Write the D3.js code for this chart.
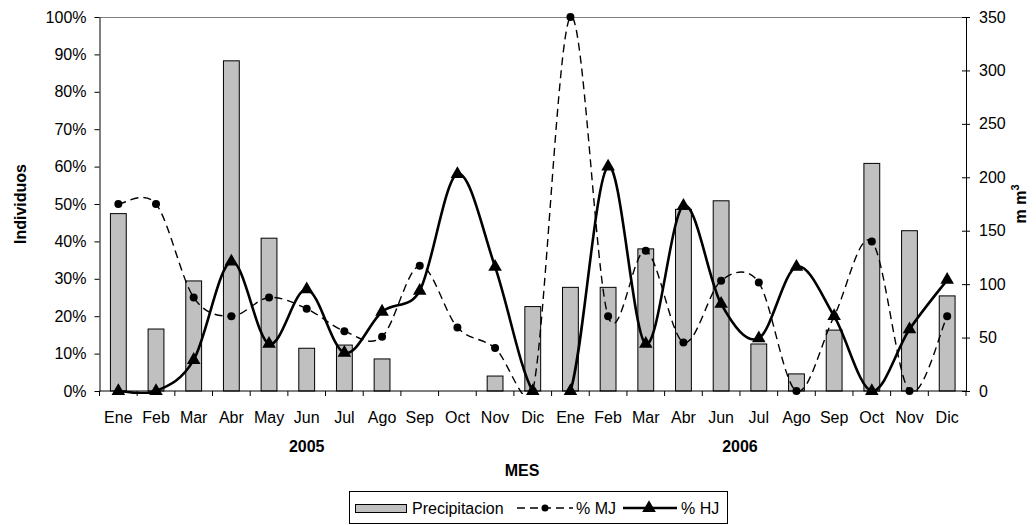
<!DOCTYPE html>
<html>
<head>
<meta charset="utf-8">
<script src="https://cdn.jsdelivr.net/npm/d3@7"></script>
<style>
  body { margin: 0; background: #fff; }
  svg { display: block; font-family: "Liberation Sans", Arial, sans-serif; }
</style>
</head>
<body>
<svg id="chart" width="1036" height="525"></svg>
<script>
// Monthly categories (two years)
const months = ["Ene","Feb","Mar","Abr","May","Jun","Jul","Ago","Sep","Oct","Nov","Dic",
                "Ene","Feb","Mar","Abr","Jun","Jul","Ago","Sep","Oct","Nov","Dic"];
const yearOf = ["2005","2005","2005","2005","2005","2005","2005","2005","2005","2005","2005","2005",
                "2006","2006","2006","2006","2006","2006","2006","2006","2006","2006","2006"];
const yearLabels = ["2005","2006"];

// Precipitation (mm3, right axis)
const precipitacion = [166, 58, 103, 309, 143, 40, 43, 30, 0, 0, 14, 79,
                       97, 97, 133, 170, 178, 44, 16, 57, 213, 150, 89];
// % MJ (left axis, percent)
const pctMJ = [50, 50, 25, 20, 25, 22, 16, 14.5, 33.5, 17, 11.5, 0,
               100, 20, 37.5, 13, 29.5, 29, 0, 20, 40, 0, 20];
// % HJ (left axis, percent)
const pctHJ = [0, 0, 8.3, 34.6, 12.6, 27.2, 10.2, 21.2, 26.8, 58, 33.2, 0,
               0, 60, 12.6, 49.5, 23.3, 14.1, 33.2, 20, 0, 16.5, 29.7];

const leftTicks = [0, 0.1, 0.2, 0.3, 0.4, 0.5, 0.6, 0.7, 0.8, 0.9, 1.0];
const rightTicks = [0, 50, 100, 150, 200, 250, 300, 350];

const svg = d3.select("#chart");
const L = 99.5, R = 966, T = 17, B = 391;
const idx = months.map((_, i) => i);

const x = d3.scaleBand().domain(idx).range([L, R]).padding(0);
const bw = x.bandwidth();
const yPct = d3.scaleLinear().domain([0, 1]).range([B, T]);
const yMm = d3.scaleLinear().domain([0, 350]).range([B, T]);

// series lines are clipped to the plot area
svg.append("defs").append("clipPath").attr("id", "plotClip")
  .append("rect").attr("x", L - 5).attr("y", T - 3).attr("width", R - L + 10).attr("height", B - T + 6);

// top border of plot area
svg.append("line").attr("x1", L).attr("x2", R).attr("y1", T + 0.5).attr("y2", T + 0.5)
  .attr("stroke", "#808080").attr("stroke-width", 1);

// precipitation bars
const barW = bw * 0.42;
svg.append("g").selectAll("rect").data(precipitacion).join("rect")
  .attr("x", (d, i) => x(i) + bw / 2 - barW / 2)
  .attr("y", d => yMm(d))
  .attr("width", barW)
  .attr("height", d => B - yMm(d))
  .attr("fill", "#c0c0c0")
  .attr("stroke", "#000")
  .attr("stroke-width", 1)
  .style("display", d => d > 0 ? null : "none");

// left axis
const gL = svg.append("g").attr("transform", `translate(${L},0)`)
  .call(d3.axisLeft(yPct).tickValues(leftTicks).tickFormat(d3.format(".0%")).tickSize(5).tickSizeOuter(0).tickPadding(8));
gL.select(".domain").attr("stroke", "#000");
gL.selectAll("text").attr("font-size", 16).attr("fill", "#000").attr("font-family", "Liberation Sans, Arial, sans-serif");

// right axis (ticks cross the axis line)
const gR = svg.append("g").attr("transform", `translate(${R},0)`)
  .call(d3.axisRight(yMm).tickValues(rightTicks).tickSize(4).tickSizeOuter(0).tickPadding(9));
gR.select(".domain").attr("stroke", "#000");
gR.selectAll(".tick line").attr("x1", -4).attr("x2", 4);
gR.selectAll("text").attr("font-size", 16).attr("fill", "#000").attr("font-family", "Liberation Sans, Arial, sans-serif");

// bottom axis: ticks at band edges, labels at band centres
const gB = svg.append("g");
gB.append("line").attr("x1", L).attr("x2", R).attr("y1", B).attr("y2", B).attr("stroke", "#000");
const edges = idx.map(i => x(i)).concat([R]);
gB.selectAll("line.tk").data(edges).join("line").attr("class", "tk")
  .attr("x1", d => d).attr("x2", d => d).attr("y1", B).attr("y2", B + 5).attr("stroke", "#000");
gB.selectAll("text.m").data(months).join("text").attr("class", "m")
  .attr("x", (d, i) => x(i) + bw / 2).attr("y", 423)
  .attr("text-anchor", "middle").attr("font-size", 16).text(d => d);

// year labels
yearLabels.forEach(yr => {
  const ii = idx.filter(i => yearOf[i] === yr);
  const cx = (x(ii[0]) + x(ii[ii.length - 1])) / 2;
  svg.append("text").attr("x", cx).attr("y", 452).attr("text-anchor", "middle")
    .attr("font-size", 16).attr("font-weight", "bold").text(yr);
});

// axis titles
svg.append("text").attr("x", 522).attr("y", 476).attr("text-anchor", "middle")
  .attr("font-size", 16).attr("font-weight", "bold").text("MES");
svg.append("text").attr("transform", `translate(26,${(T + B) / 2}) rotate(-90)`)
  .attr("text-anchor", "middle").attr("font-size", 16).attr("font-weight", "bold").text("Individuos");
const mm = svg.append("text").attr("transform", `translate(1026,${(T + B) / 2}) rotate(-90)`)
  .attr("text-anchor", "middle").attr("font-size", 16).attr("font-weight", "bold");
mm.append("tspan").text("m m");
mm.append("tspan").attr("dy", -7).attr("font-size", 11).text("3");

// Smoothed line: Catmull-Rom Bezier segments whose control handles are
// limited to half the length of the segment they belong to.
function smoothPath(pts) {
  const p = d3.path();
  const n = pts.length;
  const lim = 0.5;
  p.moveTo(pts[0][0], pts[0][1]);
  for (let i = 0; i < n - 1; i++) {
    const p0 = pts[Math.max(i - 1, 0)], p1 = pts[i], p2 = pts[i + 1], p3 = pts[Math.min(i + 2, n - 1)];
    const seg = Math.hypot(p2[0] - p1[0], p2[1] - p1[1]);
    let a = [(p2[0] - p0[0]) / 6, (p2[1] - p0[1]) / 6];
    let b = [(p3[0] - p1[0]) / 6, (p3[1] - p1[1]) / 6];
    const la = Math.hypot(a[0], a[1]), lb = Math.hypot(b[0], b[1]);
    if (la > lim * seg) a = a.map(v => v * lim * seg / la);
    if (lb > lim * seg) b = b.map(v => v * lim * seg / lb);
    p.bezierCurveTo(p1[0] + a[0], p1[1] + a[1], p2[0] - b[0], p2[1] - b[1], p2[0], p2[1]);
  }
  return p.toString();
}
const toPts = arr => arr.map((d, i) => [x(i) + bw / 2, yPct(d / 100)]);

const lines = svg.append("g").attr("clip-path", "url(#plotClip)");
lines.append("path").attr("d", smoothPath(toPts(pctMJ)))
  .attr("fill", "none").attr("stroke", "#000").attr("stroke-width", 1.4)
  .attr("stroke-dasharray", "8,5");
lines.append("path").attr("d", smoothPath(toPts(pctHJ)))
  .attr("fill", "none").attr("stroke", "#000").attr("stroke-width", 2.6);

// markers
svg.append("g").selectAll("circle").data(pctMJ).join("circle")
  .attr("cx", (d, i) => x(i) + bw / 2).attr("cy", d => yPct(d / 100)).attr("r", 4).attr("fill", "#000");
const tri = d3.symbol().type(d3.symbolTriangle).size(80);
svg.append("g").selectAll("path").data(pctHJ).join("path")
  .attr("d", tri)
  .attr("transform", (d, i) => `translate(${x(i) + bw / 2},${yPct(d / 100)})`)
  .attr("fill", "#000");

// legend
const lg = svg.append("g");
lg.append("rect").attr("x", 349.5).attr("y", 491.5).attr("width", 378).attr("height", 32)
  .attr("fill", "#fff").attr("stroke", "#000");
lg.append("rect").attr("x", 355.5).attr("y", 504.5).attr("width", 51).attr("height", 8)
  .attr("fill", "#c0c0c0").attr("stroke", "#000");
lg.append("text").attr("x", 412).attr("y", 514).attr("font-size", 16).text("Precipitacion");
lg.append("line").attr("x1", 517).attr("x2", 573).attr("y1", 508).attr("y2", 508)
  .attr("stroke", "#000").attr("stroke-width", 1.4).attr("stroke-dasharray", "8,5");
lg.append("circle").attr("cx", 545).attr("cy", 508).attr("r", 3.5).attr("fill", "#000");
lg.append("text").attr("x", 576).attr("y", 514).attr("font-size", 16).text("% MJ");
lg.append("line").attr("x1", 623).attr("x2", 677).attr("y1", 508).attr("y2", 508)
  .attr("stroke", "#000").attr("stroke-width", 2.6);
lg.append("path").attr("d", tri).attr("transform", "translate(649,508)").attr("fill", "#000");
lg.append("text").attr("x", 681).attr("y", 514).attr("font-size", 16).text("% HJ");
</script>
</body>
</html>
